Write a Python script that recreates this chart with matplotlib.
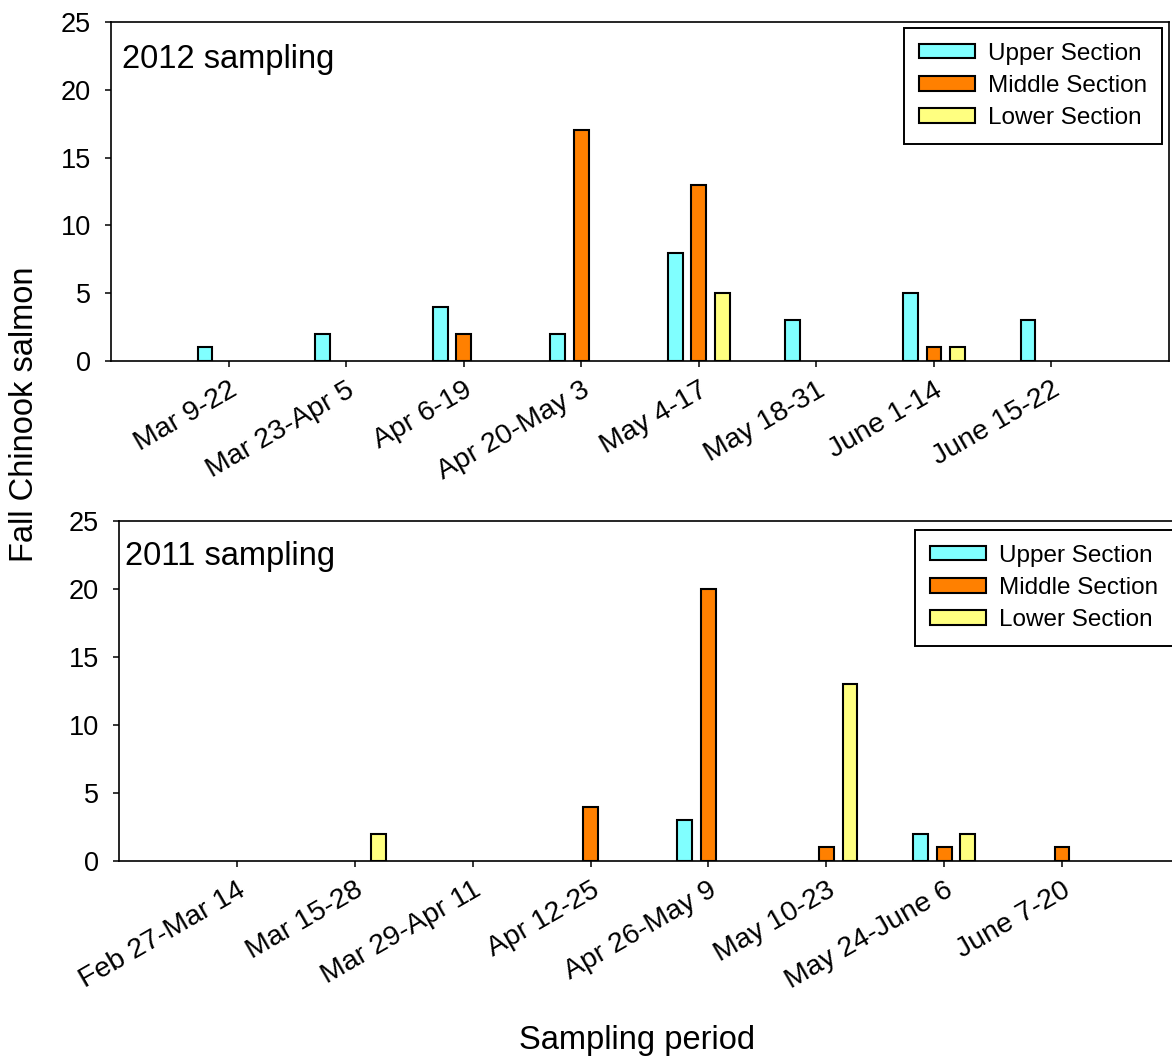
import numpy as np
import matplotlib
matplotlib.use('Agg')
import matplotlib.pyplot as plt

plt.rcParams['font.family'] = ['Liberation Sans', 'DejaVu Sans']

# data
periods_2012 = ['Mar 9-22', 'Mar 23-Apr 5', 'Apr 6-19', 'Apr 20-May 3',
                'May 4-17', 'May 18-31', 'June 1-14', 'June 15-22']
upper_2012  = [1, 2, 4, 2, 8, 3, 5, 3]
middle_2012 = [0, 0, 2, 17, 13, 0, 1, 0]
lower_2012  = [0, 0, 0, 0, 5, 0, 1, 0]

periods_2011 = ['Feb 27-Mar 14', 'Mar 15-28', 'Mar 29-Apr 11', 'Apr 12-25',
                'Apr 26-May 9', 'May 10-23', 'May 24-June 6', 'June 7-20']
upper_2011  = [0, 0, 0, 0, 3, 0, 2, 0]
middle_2011 = [0, 0, 0, 4, 20, 1, 1, 1]
lower_2011  = [0, 2, 0, 0, 0, 13, 2, 0]

series_names = ['Upper Section', 'Middle Section', 'Lower Section']
colors = ['#80FFFF', '#FF8000', '#FFFF80']

W, H = 1172, 1057
fig = plt.figure(figsize=(W/100, H/100), dpi=100)

# axes boxes in pixels: left, top, right, bottom
ax1 = fig.add_axes([111/W, 1-361/H, (1169-111)/W, (361-22)/H])
ax2 = fig.add_axes([119/W, 1-861/H, (1180-119)/W, (861-521)/H])

bw = 0.125
offs = [-0.2, 0.0, 0.2]

def draw(ax, periods, vals, title, leg_anchor, title_pos):
    x = np.arange(len(periods))
    for k, (v, name, c) in enumerate(zip(vals, series_names, colors)):
        v = np.array(v, dtype=float)
        m = v > 0
        ax.bar(x[m] + offs[k], v[m], width=bw, color=c, edgecolor='black',
               linewidth=1.5, zorder=3)
        # legend proxy
        ax.bar([np.nan], [np.nan], width=bw, color=c, edgecolor='black',
               linewidth=1.5, label=name)
    ax.set_xlim(-1, 8)
    ax.set_ylim(0, 25)
    ax.set_yticks([0, 5, 10, 15, 20, 25])
    ax.set_xticks(x)
    ax.set_xticklabels(periods, rotation=30, ha='right', va='top',
                       rotation_mode='anchor')
    ax.tick_params(axis='y', labelsize=19.5, length=4.5, width=1.1, pad=10,
                   direction='out', right=False)
    ax.tick_params(axis='x', labelsize=20.5, length=4.5, width=1.1, pad=7,
                   direction='out', top=False)
    for s in ax.spines.values():
        s.set_linewidth(1.2)
    ax.text(title_pos[0], title_pos[1], title, transform=ax.transAxes,
            fontsize=23.5, ha='left', va='baseline')
    leg = ax.legend(loc='upper right', bbox_to_anchor=leg_anchor,
                    fontsize=17.5, frameon=True, fancybox=False,
                    edgecolor='black', framealpha=1, handlelength=2.3,
                    handleheight=0.55, labelspacing=0.42, borderpad=0.6,
                    handletextpad=0.55, borderaxespad=0)
    leg.get_frame().set_linewidth(1.4)

draw(ax1, periods_2012, [upper_2012, middle_2012, lower_2012],
     '2012 sampling', (0.9934, 0.982), (0.0104, 0.864))
draw(ax2, periods_2011, [upper_2011, middle_2011, lower_2011],
     '2011 sampling', (0.9934, 0.9735), (0.0057, 0.870))

fig.text(25/W, 1-414/H, 'Fall Chinook salmon', rotation=90, fontsize=23.5,
         ha='center', va='center')
fig.text(637/W, 1-1040/H, 'Sampling period', fontsize=23.5,
         ha='center', va='center')

fig.savefig('out.png', dpi=100)
